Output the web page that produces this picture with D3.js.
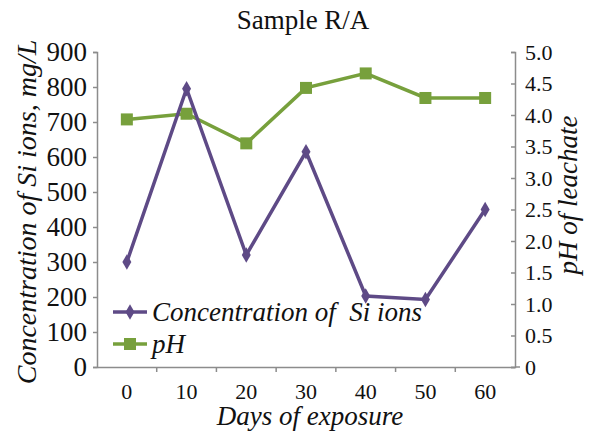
<!DOCTYPE html>
<html><head><meta charset="utf-8">
<script src="https://cdn.jsdelivr.net/npm/d3@7"></script>
<style>body{margin:0;background:#fff}svg{display:block}</style>
</head><body>
<script>
const days = ["0","10","20","30","40","50","60"];
const siValues = [300, 795, 320, 615, 203, 193, 450];
const phValues = [3.93, 4.02, 3.55, 4.43, 4.66, 4.27, 4.27];
const leftTicks = [0,100,200,300,400,500,600,700,800,900];
const rightTicks = [0,0.5,1,1.5,2,2.5,3,3.5,4,4.5,5];
const seriesNames = ["Concentration of  Si ions", "pH"];

const W = 593, H = 439;
const m = {l:97, r:515, t:52, b:367};
const purple = "#5e4a86", green = "#77a03c", axisCol = "#8c8c8c";

const svg = d3.select("body").append("svg").attr("width", W).attr("height", H);

const x = d3.scaleBand().domain(days).range([m.l, m.r]);
const yL = d3.scaleLinear().domain([0, 900]).range([m.b, m.t]);
const yR = d3.scaleLinear().domain([0, 5]).range([m.b, m.t]);

function styleText(sel, size, italic) {
  sel.attr("font-family", "Liberation Serif")
     .style("font-family", '"Liberation Serif"')
     .attr("font-size", size)
     .style("font-size", size + "px")
     .style("font-style", italic ? "italic" : "normal")
     .attr("fill", "#111");
  return sel;
}

// Left axis
const gL = svg.append("g").attr("transform", `translate(${m.l},0)`)
  .call(d3.axisLeft(yL).tickValues(leftTicks).tickSize(4).tickPadding(6).tickFormat(d3.format("d")));

// Right axis (ticks inward)
const gR = svg.append("g").attr("transform", `translate(${m.r},0)`)
  .call(d3.axisRight(yR).tickValues(rightTicks).tickSize(-4).tickPadding(10)
    .tickFormat(d => d === 0 ? "0" : d3.format(".1f")(d)));

// X axis with ticks at band edges
const gX = svg.append("g").attr("transform", `translate(0,${m.b})`)
  .call(d3.axisBottom(x).tickSize(0).tickPadding(16));

[gL, gR, gX].forEach(g => {
  g.attr("font-family", "Liberation Serif").style("font-family", '"Liberation Serif"');
});
styleText(gL.selectAll("text"), 27, false);
styleText(gR.selectAll("text"), 22, false);
styleText(gX.selectAll("text"), 22, false);

gX.selectAll(".edge").data(days.slice(1)).enter().append("line")
  .attr("x1", d => x(d)).attr("x2", d => x(d)).attr("y1", 0).attr("y2", 5);
gX.append("line").attr("x1", m.r).attr("x2", m.r + 5).attr("y1", 0).attr("y2", 0);
gX.selectAll("line").attr("stroke", axisCol).attr("stroke-width", 1.5);

[gL, gR, gX].forEach(g => {
  g.selectAll("path.domain").attr("stroke", axisCol).attr("stroke-width", 1.5);
  g.selectAll(".tick line").attr("stroke", axisCol).attr("stroke-width", 1.5);
});

const cx = d => x(d) + x.bandwidth() / 2;

// pH line
svg.append("path").datum(phValues)
  .attr("fill", "none").attr("stroke", green).attr("stroke-width", 3.5)
  .attr("d", d3.line().x((d, i) => cx(days[i])).y(d => yR(d)));
svg.selectAll(".phm").data(phValues).enter().append("rect")
  .attr("x", (d, i) => cx(days[i]) - 6).attr("y", d => yR(d) - 6)
  .attr("width", 12).attr("height", 12).attr("fill", green);

// Si line
svg.append("path").datum(siValues)
  .attr("fill", "none").attr("stroke", purple).attr("stroke-width", 3.5)
  .attr("d", d3.line().x((d, i) => cx(days[i])).y(d => yL(d)));
const diamond = d3.symbol().type(d3.symbolDiamond).size(70);
svg.selectAll(".sim").data(siValues).enter().append("path")
  .attr("d", diamond)
  .attr("transform", (d, i) => `translate(${cx(days[i])},${yL(d)})`)
  .attr("fill", purple);

// Title
styleText(svg.append("text").attr("x", 303).attr("y", 29).attr("text-anchor", "middle"), 27, false)
  .text("Sample R/A");

// Axis titles
styleText(svg.append("text").attr("transform", "translate(36,212) rotate(-90)").attr("text-anchor", "middle"), 28, true)
  .text("Concentration of Si ions, mg/L");
styleText(svg.append("text").attr("transform", "translate(577,195) rotate(-90)").attr("text-anchor", "middle"), 27, true)
  .text("pH of leachate");
styleText(svg.append("text").attr("x", 310).attr("y", 425).attr("text-anchor", "middle"), 27, true)
  .text("Days of exposure");

// Legend
const leg = svg.append("g");
const legRows = [{name: seriesNames[0], col: purple, y: 312, mk: "d"}, {name: seriesNames[1], col: green, y: 344, mk: "s"}];
legRows.forEach(r => {
  leg.append("line").attr("x1", 113).attr("x2", 147).attr("y1", r.y).attr("y2", r.y)
    .attr("stroke", r.col).attr("stroke-width", 3.5);
  if (r.mk === "d") leg.append("path").attr("d", diamond).attr("transform", `translate(130,${r.y})`).attr("fill", r.col);
  else leg.append("rect").attr("x", 124).attr("y", r.y - 6).attr("width", 12).attr("height", 12).attr("fill", r.col);
  styleText(leg.append("text").attr("x", 152).attr("y", r.y + 9), 27, true)
    .style("white-space", "pre").text(r.name);
});
</script>
</body></html>
